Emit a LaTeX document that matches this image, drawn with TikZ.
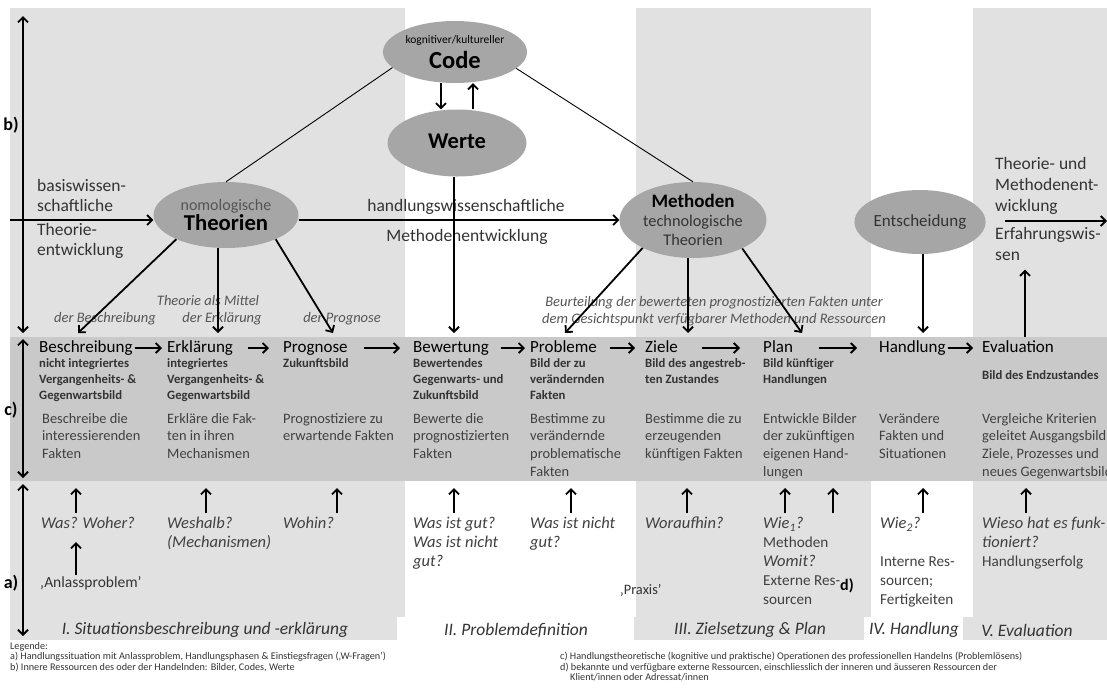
\documentclass[tikz,border=0pt]{standalone}
\usepackage{fontspec}
\setmainfont{Carlito}
\usetikzlibrary{shapes.geometric,arrows.meta,positioning}
\definecolor{panelgray}{HTML}{E1E1E1}
\definecolor{bandgray}{HTML}{C9C9C9}
\definecolor{blobgray}{HTML}{A6A6A6}
\definecolor{ink}{HTML}{333333}
\definecolor{opink}{HTML}{404040}
\definecolor{softink}{HTML}{555555}
\newcommand\plainq[1]{{\upshape\fontsize{15.2}{19}\selectfont #1}}
\begin{document}
\begin{tikzpicture}[x=1pt,y=-1pt,>={Straight Barb[length=5pt,width=10pt]},
    every node/.style={inner sep=0pt,align=left,text=ink},
    blob/.style={ellipse,fill=blobgray,inner sep=0pt,align=center,text=black},
    arr/.style={line width=1.8pt,->},
    dblarr/.style={line width=1.8pt,<->},
    thinline/.style={line width=0.9pt},
    phasetitle/.style={anchor=west,font=\fontsize{17}{20}\selectfont,text=black,
      text height=12.5pt,text depth=4pt},
    bildtext/.style={anchor=north west,font=\fontsize{12.7}{16}\selectfont\bfseries},
    opertext/.style={anchor=north west,font=\fontsize{14.4}{17.7}\selectfont,text=opink},
    questtext/.style={anchor=north west,font=\fontsize{16.5}{19}\selectfont\itshape,text=opink},
    sidetext/.style={anchor=north west,font=\fontsize{17.5}{20.5}\selectfont},
    remarktext/.style={anchor=north,font=\fontsize{14.5}{17}\selectfont\itshape,text=softink,align=center},
    axlabel/.style={font=\fontsize{18}{20}\selectfont\bfseries,text=black},
    stagelabel/.style={font=\fontsize{17.5}{20}\selectfont\itshape},
    legendtext/.style={anchor=north west,font=\fontsize{10.2}{10.6}\selectfont}]
  \useasboundingbox (0,0) rectangle (1107,689);
  % columns of the phases
  \fill[panelgray] (10,8) rectangle (405,617);
  \fill[panelgray] (636,8) rectangle (871,617);
  \fill[panelgray] (973,8) rectangle (1107,617);
  \fill[panelgray] (10,617) rectangle (397,640);
  \fill[panelgray] (634,617) rectangle (864,640);
  \fill[panelgray] (963,617) rectangle (1107,640);
  \node(band)[fill=bandgray, anchor=north west, minimum width=1097, minimum height=144] at (10,337) {};

  % inner resources
  \node(code)[blob, minimum width=144, minimum height=62, font=\fontsize{12}{25}\selectfont] at (455,52)
    {{\fontsize{11.5}{12}\selectfont kognitiver/kultureller}\\{\fontsize{24.5}{25}\selectfont\bfseries Code}};
  \node(werte)[blob, minimum width=139, minimum height=67] at (457,143)
    {\fontsize{22.5}{24}\selectfont\bfseries Werte\vphantom{g}};
  \node(theo)[blob, minimum width=145, minimum height=66, font=\fontsize{12}{17}\selectfont] at (226,215)
    {{\fontsize{16}{17}\selectfont\color{softink}nomologische}\\{\fontsize{22.7}{24}\selectfont\bfseries Theorien}};
  \node(meth)[blob, minimum width=147, minimum height=76, font=\fontsize{12}{19}\selectfont] at (693,220)
    {{\fontsize{19}{20}\selectfont\bfseries Methoden}\\{\fontsize{16.3}{18}\selectfont\color{ink}technologische}\\{\fontsize{16.3}{18}\selectfont\color{ink}Theorien}};
  \node(ent)[blob, minimum width=103, minimum height=64] at (920,222)
    {\fontsize{17}{19}\selectfont\color{ink}Entscheidung};
  \draw[thinline] (code.194) -- (theo.north);
  \draw[thinline] (code.345) -- (meth.north);
  \draw[arr] ([xshift=-14pt]code.south) -- ([xshift=-16pt]werte.north);
  \draw[arr] ([xshift=16pt]werte.north) -- ([xshift=18pt]code.south);

  % development lines
  \node(basis)[sidetext] at (37,179) {basiswissen-\\schaftliche};
  \node(theoent)[sidetext] at (37,223) {Theorie-\\entwicklung};
  \node(handl)[sidetext, anchor=north] at (466,199) {handlungswissenschaftliche};
  \node(methent)[sidetext, anchor=north] at (467,229) {Methodenentwicklung};
  \node(theound)[sidetext, font=\fontsize{17.5}{21}\selectfont] at (995,157) {Theorie- und\\Methodenent-\\wicklung};
  \node(erf)[sidetext, font=\fontsize{17.5}{21}\selectfont] at (995,227) {Erfahrungswis-\\sen};
  \coordinate (leftin) at (10,220);
  \coordinate (rightin) at (1005,221);
  \coordinate (rightout) at (1107,221);
  \draw[arr] (leftin) -- (leftin -| theo.west);
  \draw[arr] (theo.east |- leftin) -- (meth.west |- leftin);
  \draw[arr] (rightin) -- (rightout);

  % remarks above the band
  \node(mittel)[remarktext] at (208,295) {Theorie als Mittel};
  \node(derbeschr)[remarktext] at (105,312) {der Beschreibung};
  \node(dererkl)[remarktext] at (222,312) {der Erklärung};
  \node(derprog)[remarktext] at (342,312) {der Prognose};
  \node(beurt)[remarktext] at (714,296) {Beurteilung der bewerteten prognostizierten Fakten unter\\dem Gesichtspunkt verfügbarer Methoden und Ressourcen};

  % phases
  \node(beschr)[phasetitle] at (39,348) {Beschreibung};
  \node(erkl)[phasetitle] at (167,348) {Erklärung};
  \node(prog)[phasetitle] at (283,348) {Prognose};
  \node(bew)[phasetitle] at (413,348) {Bewertung};
  \node(prob)[phasetitle] at (530,348) {Probleme};
  \node(ziele)[phasetitle] at (645,348) {Ziele};
  \node(plan)[phasetitle] at (763,348) {Plan};
  \node(hand)[phasetitle] at (879,348) {Handlung};
  \node(eval)[phasetitle] at (982,348) {Evaluation};
  \draw[arr, shorten <=2pt, shorten >=5pt] (beschr) -- (erkl);
  \draw[arr, shorten <=15pt, shorten >=14pt] (erkl) -- (prog);
  \draw[arr, shorten <=16pt, shorten >=13pt] (prog) -- (bew);
  \draw[arr, shorten <=12pt, shorten >=5pt] (bew) -- (prob);
  \draw[arr, shorten <=13pt, shorten >=10pt] (prob) -- (ziele);
  \draw[arr, shorten <=24pt, shorten >=23pt] (ziele) -- (plan);
  \draw[arr, shorten <=26pt, shorten >=22pt] (plan) -- (hand);
  \draw[arr, shorten <=2pt, shorten >=9pt] (hand) -- (eval);

  \node(bild1)[bildtext, yshift=-2pt, at=(beschr.south west)] {nicht integriertes\\Vergangenheits- \&\\Gegenwartsbild};
  \node(bild2)[bildtext, yshift=-2pt, at=(erkl.south west)] {integriertes\\Vergangenheits- \&\\Gegenwartsbild};
  \node(bild3)[bildtext, yshift=-2pt, at=(prog.south west)] {Zukunftsbild};
  \node(bild4)[bildtext, yshift=-2pt, at=(bew.south west)] {Bewertendes\\Gegenwarts- und\\Zukunftsbild};
  \node(bild5)[bildtext, yshift=-2pt, at=(prob.south west)] {Bild der zu\\verändernden\\Fakten};
  \node(bild6)[bildtext, yshift=-2pt, at=(ziele.south west)] {Bild des angestreb-\\ten Zustandes};
  \node(bild7)[bildtext, yshift=-2pt, at=(plan.south west)] {Bild künftiger\\Handlungen};
  \node(bild9)[bildtext, yshift=-14pt, at=(eval.south west)] {Bild des Endzustandes};

  \node(op1)[opertext] at (42,413) {Beschreibe die\\interessierenden\\Fakten};
  \node(op2)[opertext] at (167,413) {Erkläre die Fak-\\ten in ihren\\Mechanismen};
  \node(op3)[opertext] at (283,413) {Prognostiziere zu\\erwartende Fakten};
  \node(op4)[opertext] at (413,413) {Bewerte die\\prognostizierten\\Fakten};
  \node(op5)[opertext] at (530,413) {Bestimme zu\\verändernde\\problematische\\Fakten};
  \node(op6)[opertext] at (645,413) {Bestimme die zu\\erzeugenden\\künftigen Fakten};
  \node(op7)[opertext] at (763,413) {Entwickle Bilder\\der zukünftigen\\eigenen Hand-\\lungen};
  \node(op8)[opertext] at (879,413) {Verändere\\Fakten und\\Situationen};
  \node(op9)[opertext] at (982,413) {Vergleiche Kriterien\\geleitet Ausgangsbild\\Ziele, Prozesses und\\neues Gegenwartsbild};

  % arrows from the resources into the band
  \coordinate (tobeschr) at (78,333);
  \coordinate (toerkl) at (218,333);
  \coordinate (toprog) at (333,333);
  \coordinate (tobew) at (454,333);
  \coordinate (toprob) at (565,333);
  \coordinate (toziele) at (688,333);
  \coordinate (toplan) at (802,333);
  \coordinate (tohand) at (923,333);
  \coordinate (fromeval) at (1025,337);
  \draw[arr] (theo.206) -- (tobeschr);
  \draw[arr] (theo.south -| toerkl) -- (toerkl);
  \draw[arr] (theo.-26) -- (toprog);
  \draw[arr] (werte.south -| tobew) -- (tobew);
  \draw[arr] (meth.209) -- (toprob);
  \draw[arr] (meth.south -| toziele) -- (toziele);
  \draw[arr] (meth.-30) -- (toplan);
  \draw[arr] (ent.south -| tohand) -- (tohand);
  \draw[arr, shorten >=9pt] (fromeval) -- (fromeval |- erf.south);

  % situation and questions
  \node(q1)[questtext] at (41,517) {Was? Woher?};
  \node(q2)[questtext] at (167,517) {Weshalb?\\(Mechanismen)};
  \node(q3)[questtext] at (283,517) {Wohin?};
  \node(q4)[questtext] at (413,517) {Was ist gut?\\Was ist nicht\\gut?};
  \node(q5)[questtext] at (530,517) {Was ist nicht\\gut?};
  \node(q6)[questtext] at (645,517) {Woraufhin?};
  \node(q7)[questtext] at (763,517) {Wie\textsubscript{1}?\\\plainq{Methoden}\\Womit?\\\plainq{Externe Res-}\\\plainq{sourcen}};
  \node(q8)[questtext] at (880,517) {Wie\textsubscript{2}?\\[19pt]\plainq{Interne Res-}\\\plainq{sourcen;}\\\plainq{Fertigkeiten}};
  \node(q9)[questtext] at (982,517) {Wieso hat es funk-\\tioniert?\\\plainq{Handlungserfolg}};
  \node(anlass)[anchor=west, font=\fontsize{15.5}{17}\selectfont] at (40,583) {‚Anlassproblem’};
  \node(praxis)[anchor=west, font=\fontsize{14.4}{16}\selectfont] at (620,590) {‚Praxis’};
  \draw[arr] (76,513) -- (76,488);
  \draw[arr] (206,513) -- (206,488);
  \draw[arr] (337,513) -- (337,488);
  \draw[arr] (454,513) -- (454,488);
  \draw[arr] (571,513) -- (571,488);
  \draw[arr] (687,513) -- (687,488);
  \draw[arr] (785,513) -- (785,488);
  \draw[arr] (833,513) -- (833,488);
  \draw[arr] (923,513) -- (923,488);
  \draw[arr] (1026,513) -- (1026,488);
  \draw[arr] (76,575) -- (76,542);

  % axis on the left
  \draw[dblarr] (23,16) -- (23,333);
  \draw[dblarr] (23,339) -- (23,478);
  \draw[dblarr] (23,484) -- (23,636);
  \node(lb)[axlabel] at (11,125) {b)};
  \node(lc)[axlabel] at (11,410) {c)};
  \node(la)[axlabel] at (11,583) {a)};
  \node(ld)[axlabel, font=\fontsize{16}{18}\selectfont\bfseries] at (847,586) {d)};

  % stage names
  \node(st1)[stagelabel] at (205,630) {I. Situationsbeschreibung und -erklärung};
  \node(st2)[stagelabel] at (516,630) {II. Problemdefinition};
  \node(st3)[stagelabel] at (750,630) {III. Zielsetzung \& Plan};
  \node(st4)[stagelabel] at (914,630) {IV. Handlung};
  \node(st5)[stagelabel] at (1027,630) {V. Evaluation};

  % legend
  \node(leg1)[legendtext] at (10,642) {Legende:\\a) Handlungssituation mit Anlassproblem, Handlungsphasen \& Einstiegsfragen (‚W-Fragen’)\\b) Innere Ressourcen des oder der Handelnden: Bilder, Codes, Werte};
  \node(leg2)[legendtext] at (560,652) {c) Handlungstheoretische (kognitive und praktische) Operationen des professionellen Handelns (Problemlösens)\\d) bekannte und verfügbare externe Ressourcen, einschliesslich der inneren und äusseren Ressourcen der\\\hspace*{10pt}Klient/innen oder Adressat/innen};
\end{tikzpicture}
\end{document}
